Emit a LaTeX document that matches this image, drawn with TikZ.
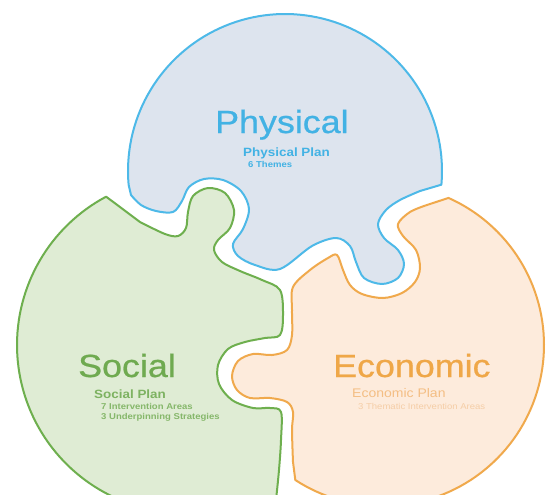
\documentclass[tikz,border=0pt]{standalone}
\usepackage{fontspec}
\setmainfont{Liberation Sans}[FakeStretch=1.12]
\newfontfamily\bigfamily{Liberation Sans}[FakeStretch=1.12, FakeBold=0.7]
\definecolor{bluefill}{HTML}{DDE4EE}
\definecolor{blueline}{HTML}{4DB9E8}
\definecolor{bluetext}{HTML}{42B2E4}
\definecolor{greenfill}{HTML}{DFECD4}
\definecolor{greenline}{HTML}{6EAF4E}
\definecolor{greentext}{HTML}{6FAA50}
\definecolor{orangefill}{HTML}{FDEBDC}
\definecolor{orangeline}{HTML}{F0A94C}
\definecolor{orangetext}{HTML}{EFA748}
\definecolor{orangesub}{HTML}{F4BE84}
\definecolor{orangesmall}{HTML}{F5CDA6}
\begin{document}
\begin{tikzpicture}[x=1pt,y=-1pt,
  piece/.style={line width=2pt, line join=round},
  bigword/.style={anchor=base west, inner sep=0pt, font=\bigfamily\fontsize{32}{34}\selectfont},
  subline/.style={anchor=base west, inner sep=0pt, font=\fontsize{12}{14}\selectfont},
  smallline/.style={anchor=base west, inner sep=0pt, font=\fontsize{8.5}{10}\selectfont}]
\useasboundingbox (0,0) rectangle (554,495);
\clip (0,0) rectangle (554,495);
\fill[white] (0,0) rectangle (554,495);

% Physical (blue)
\draw[piece, draw=blueline, fill=bluefill]
  plot[domain=175:365, samples=90] ({285+157*cos(\x)},{171+157*sin(\x)})
  -- plot[smooth, tension=0.55] coordinates {(420,191) (400,200) (386,210) (378,224) (384,238) (398,250) (404,264) (398,278) (382,284) (364,278) (356,262) (350,246) (336,238) (312,246) (280,269) (255,265) (238,256) (233,244) (243,229) (249,209) (241,191) (223,180) (204,179) (189,187) (182,201) (173,212) (156,211) (141,205) (131,195)}
  -- cycle;

% Social (green)
\draw[piece, draw=greenline, fill=greenfill]
  plot[domain=65:242, samples=90] ({185+168*cos(\x)},{345+168*sin(\x)})
  -- plot[smooth, tension=0.55] coordinates {(140,222) (165,234) (178,236) (186,228) (188,212) (193,196) (208,188) (225,193) (234,210) (230,228) (218,240) (214,250) (222,262) (240,271) (262,280) (280,290) (283,315) (280,335) (265,338) (245,342) (228,349) (218,365) (219,384) (232,400) (253,408) (270,408) (281,412) (281,440) (279,470) (276,500)}
  -- cycle;

% Economic (orange)
\draw[piece, draw=orangeline, fill=orangefill]
  plot[domain=-66:123, samples=90] ({383+161*cos(\x)},{345+161*sin(\x)})
  -- plot[smooth, tension=0.55] coordinates {(293,462) (292,430) (293,412) (287,402) (270,398) (250,398) (237,390) (232,376) (238,361) (253,354) (272,355) (287,350) (292,335) (292,310) (293,287) (310,270) (328,258) (337,255) (343,270) (350,285) (362,294) (383,298) (402,293) (415,282) (420,268) (416,250) (403,236) (398,224) (410,212) (427,205)}
  -- cycle;

% Texts
\node[bigword, text=bluetext] (phys) at (215,133) {Physical};
\node[subline, text=bluetext, font=\fontsize{12}{14}\selectfont\bfseries] (physplan) at (243,156) {Physical Plan};
\node[smallline, text=bluetext, font=\fontsize{8.5}{10}\selectfont\bfseries] (physthemes) at (248,167) {6 Themes};

\node[bigword, text=greentext] (soc) at (78,377) {Social};
\node[subline, text=greentext!90, font=\fontsize{12}{14}\selectfont\bfseries] (socplan) at (94,398) {Social Plan};
\node[smallline, text=greentext!85, font=\fontsize{8.5}{10}\selectfont\bfseries] (socareas) at (101,409) {7 Intervention Areas};
\node[smallline, text=greentext!85, font=\fontsize{8.5}{10}\selectfont\bfseries] (socstrat) at (101,419) {3 Underpinning Strategies};

\node[bigword, text=orangetext] (eco) at (333,377) {Economic};
\node[subline, text=orangesub, font=\fontsize{12.5}{14}\selectfont] (ecoplan) at (352,397) {Economic Plan};
\node[smallline, text=orangesmall] (ecoareas) at (358,409) {3 Thematic Intervention Areas};
\end{tikzpicture}
\end{document}
